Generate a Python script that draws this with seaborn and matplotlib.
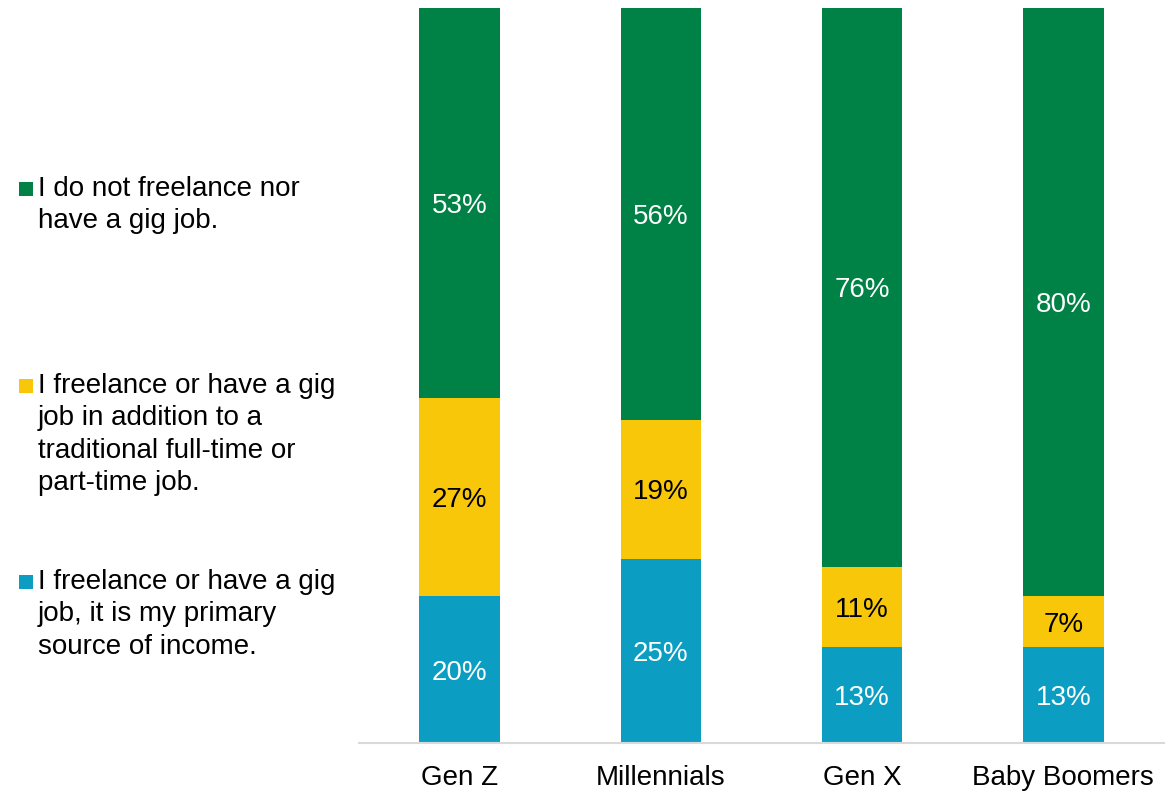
import matplotlib
matplotlib.use("Agg")
import matplotlib.pyplot as plt
import seaborn as sns
import pandas as pd
from matplotlib.patches import Rectangle

# Survey shares (%) by generation
generations = ["Gen Z", "Millennials", "Gen X", "Baby Boomers"]
primary_income = [20, 25, 13, 13]
side_gig = [27, 19, 11, 7]
no_gig = [53, 56, 76, 80]

series_labels = [
    "I do not freelance nor\nhave a gig job.",
    "I freelance or have a gig\njob in addition to a\ntraditional full-time or\npart-time job.",
    "I freelance or have a gig\njob, it is my primary\nsource of income.",
]

GREEN = "#008145"
YELLOW = "#F8C70A"
BLUE = "#0C9EC2"

sns.set_theme(style="white")
plt.rcParams["font.family"] = ["Liberation Sans", "DejaVu Sans"]

df = pd.DataFrame({
    "generation": generations,
    "primary": primary_income,
    "side": side_gig,
    "none": no_gig,
})
df["cum_side"] = df["primary"] + df["side"]
df["cum_none"] = df["cum_side"] + df["none"]

fig = plt.figure(figsize=(11.71, 7.92), dpi=100)
ax = fig.add_axes([359 / 1171, (792 - 743) / 792, (1164 - 359) / 1171, (743 - 8) / 792])

# Stack by overlaying cumulative totals, tallest first
for col, color in [("cum_none", GREEN), ("cum_side", YELLOW), ("primary", BLUE)]:
    sns.barplot(data=df, x="generation", y=col, color=color, width=0.4,
                saturation=1, linewidth=0, ax=ax)

fs = 20
for i in range(len(generations)):
    b = primary_income[i]
    s = side_gig[i]
    n = no_gig[i]
    ax.text(i, b / 2, f"{b}%", ha="center", va="center_baseline", color="white", fontsize=fs)
    ax.text(i, b + s / 2, f"{s}%", ha="center", va="center_baseline", color="black", fontsize=fs)
    ax.text(i, b + s + n / 2, f"{n}%", ha="center", va="center_baseline", color="white", fontsize=fs)

ax.set_xlim(-0.5, 3.5)
ax.set_ylim(0, 100)
ax.set_xlabel("")
ax.set_ylabel("")
ax.set_yticks([])
ax.tick_params(axis="x", length=0, pad=16, labelsize=fs, labelcolor="black")
for side in ["top", "right", "left"]:
    ax.spines[side].set_visible(False)
ax.spines["bottom"].set_color("#D9D9D9")
ax.spines["bottom"].set_linewidth(1.5)

# Legend drawn as separate entries on the left, one baseline per line
W, H = 1171, 792
line_step = 32.3
entries = [(GREEN, series_labels[0], 196), (YELLOW, series_labels[1], 393), (BLUE, series_labels[2], 589)]
for color, label, base in entries:
    fig.patches.append(Rectangle((19 / W, (H - base) / H), 14 / W, 14 / H,
                                 transform=fig.transFigure, facecolor=color,
                                 edgecolor="none", figure=fig))
    for k, line in enumerate(label.split("\n")):
        fig.text(38 / W, (H - base - k * line_step) / H, line, ha="left",
                 va="baseline", fontsize=fs, color="black")

fig.savefig("out.png", dpi=100)
